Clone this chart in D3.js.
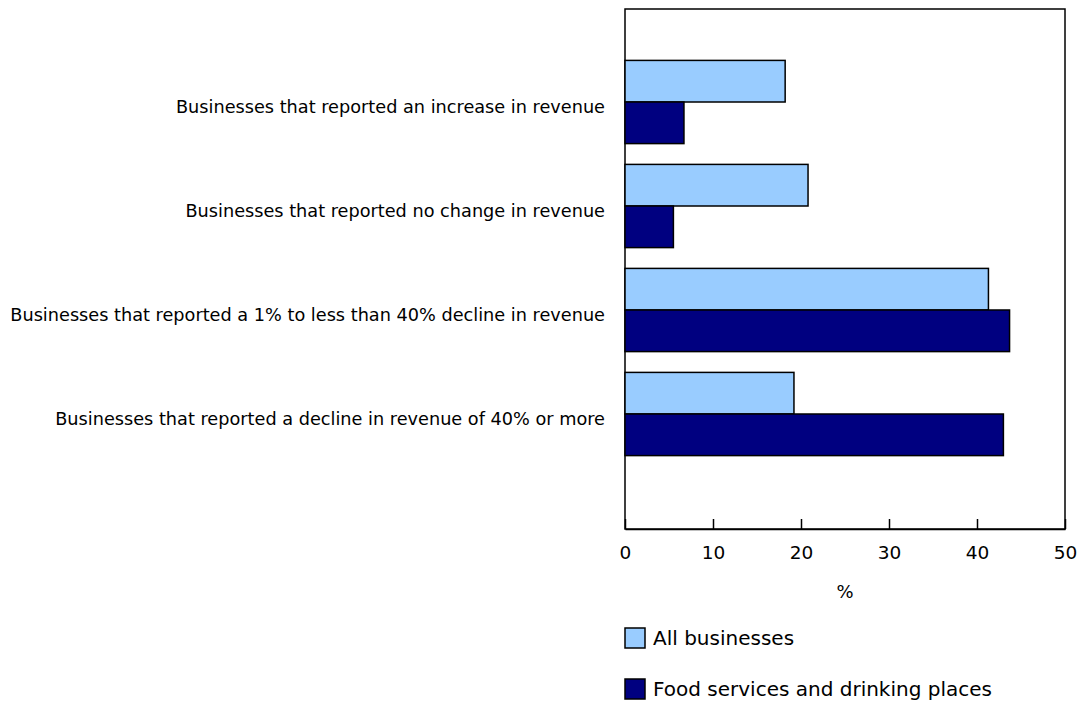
<!DOCTYPE html>
<meta charset="UTF-8">
<style>
	body { margin: 0; background: #fff; }
	svg text { font-family: Verdana, "DejaVu Sans", sans-serif; fill: #000; }
	.cat { font-size: 17.7px; }
	.tick text { font-size: 18.5px; }
	.bar { stroke: #000; stroke-width: 1.5px; }
</style>
<body>
<script src="https://cdnjs.cloudflare.com/ajax/libs/d3/7.8.5/d3.min.js"></script>
<script>

	const categories = [
		"Businesses that reported an increase in revenue",
		"Businesses that reported no change in revenue",
		"Businesses that reported a 1% to less than 40% decline in revenue",
		"Businesses that reported a decline in revenue of 40% or more"
	];
	const seriesNames = ["All businesses", "Food services and drinking places"];
	const allBusinesses = [18.2, 20.8, 41.3, 19.2];
	const foodServices = [6.7, 5.5, 43.7, 43.0];
	const xTicks = [0, 10, 20, 30, 40, 50];
	const colors = ["#99ccff", "#000080"];

	const width = 1079, height = 703;
	const plot = { left: 625, right: 1065, top: 9, bottom: 529 };

	const svg = d3.select("body").append("svg")
		.attr("width", width)
		.attr("height", height);

	const x = d3.scaleLinear().domain([0, 50]).range([plot.left, plot.right]);

	// 4 category bands, bottom of the frame left empty like the original
	const y = d3.scaleBand()
		.domain(categories)
		.range([50, 466])
		.paddingInner(0.2)
		.paddingOuter(0.1);

	const ySub = d3.scaleBand()
		.domain(seriesNames)
		.range([0, y.bandwidth()]);

	// frame
	svg.append("rect")
		.attr("x", plot.left)
		.attr("y", plot.top)
		.attr("width", plot.right - plot.left)
		.attr("height", plot.bottom - plot.top)
		.attr("fill", "none")
		.attr("stroke", "#000")
		.attr("stroke-width", 1.5);

	const rows = categories.map((c, i) => ({ cat: c, vals: [allBusinesses[i], foodServices[i]] }));

	const groups = svg.selectAll("g.grp")
		.data(rows)
		.enter().append("g")
		.attr("class", "grp")
		.attr("transform", d => `translate(0,${y(d.cat)})`);

	groups.selectAll("rect")
		.data(d => d.vals.map((v, j) => ({ v, s: seriesNames[j], j })))
		.enter().append("rect")
		.attr("class", "bar")
		.attr("x", x(0))
		.attr("y", d => ySub(d.s))
		.attr("width", d => x(d.v) - x(0))
		.attr("height", ySub.bandwidth())
		.attr("fill", d => colors[d.j]);

	groups.append("text")
		.attr("class", "cat")
		.attr("x", plot.left - 20)
		.attr("y", y.bandwidth() / 2 + 5)
		.attr("dy", "0.35em")
		.attr("text-anchor", "end")
		.text(d => d.cat);

	// x axis, ticks pointing inwards
	const xAxis = svg.append("g")
		.attr("transform", `translate(0,${plot.bottom})`)
		.call(d3.axisBottom(x).tickValues(xTicks).tickSizeInner(-10).tickSizeOuter(0).tickPadding(17));
	xAxis.select(".domain").attr("stroke-width", 1.5);
	xAxis.selectAll(".tick line").attr("stroke-width", 1.5);
	xAxis.attr("font-family", null).attr("font-size", null);

	svg.append("text")
		.attr("x", (plot.left + plot.right) / 2)
		.attr("y", 598)
		.attr("text-anchor", "middle")
		.style("font-size", "18px")
		.text("%");

	// legend
	const legend = svg.selectAll("g.leg")
		.data(seriesNames)
		.enter().append("g")
		.attr("class", "leg")
		.attr("transform", (d, i) => `translate(${plot.left},${628 + i * 51})`);

	legend.append("rect")
		.attr("width", 20)
		.attr("height", 20)
		.attr("fill", (d, i) => colors[i])
		.attr("stroke", "#000")
		.attr("stroke-width", 1.5);

	legend.append("text")
		.attr("x", 28)
		.attr("y", 10)
		.attr("dy", "0.35em")
		.style("font-size", "20px")
		.text(d => d);

</script>
</body>
